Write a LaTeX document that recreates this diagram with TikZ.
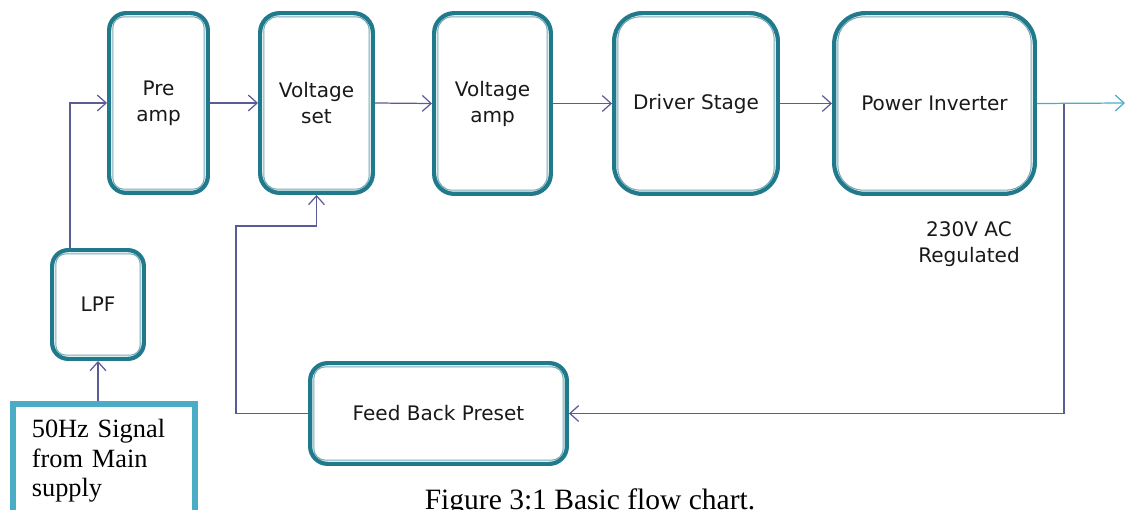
\documentclass[tikz,border=0pt]{standalone}
\usepackage{fontspec}
\setsansfont{DejaVu Sans}
\newfontfamily\serifface{Liberation Serif}
\usetikzlibrary{arrows.meta,calc}
\definecolor{boxteal}{HTML}{217A8C}
\definecolor{boxlight}{HTML}{72AAB6}
\definecolor{wirecol}{HTML}{5B5B97}
\definecolor{sigblue}{HTML}{4BACC6}

\begin{document}
\begin{tikzpicture}[x=0.02cm, y=-0.02cm, >={Straight Barb[length=5pt,width=9pt]}, font=\sffamily\fontsize{11.4}{14.8}\selectfont]
	\tikzset{stage/.style={draw=boxteal, line width=2.4pt, fill=white, text=black!90, rounded corners=#1, align=center, inner sep=0pt},
		stage/.default=0.34cm,
		rim/.style={draw=boxlight, line width=0.6pt},
		wire/.style={draw=wirecol, line width=0.7pt, ->}}
	\useasboundingbox (0,0) rectangle (1126,510);
	% stages along the top
	\node[stage=0.34cm, minimum width=1.975cm, minimum height=3.595cm] (preamp) at (158.5,103) {Pre\\amp};
	\node[stage=0.39cm, minimum width=2.255cm, minimum height=3.595cm] (vset) at (316.5,103) {Voltage\\set};
	\node[stage=0.40cm, minimum width=2.335cm, minimum height=3.615cm] (vamp) at (492.5,103.5) {Voltage\\amp};
	\node[stage=0.56cm, minimum width=3.275cm, minimum height=3.615cm] (driver) at (696,103.5) {Driver Stage};
	\node[stage=0.62cm, minimum width=4.015cm, minimum height=3.615cm] (inverter) at (934.5,103.5) {Power Inverter};
	% filter and feedback
	\node[stage=0.32cm, minimum width=1.835cm, minimum height=2.175cm] (lpf) at (98,304.5) {LPF};
	\node[stage=0.35cm, minimum width=5.135cm, minimum height=2.015cm] (feedback) at (438.5,413.5) {Feed Back Preset};
	\foreach \n/\r in {preamp/0.22, vset/0.27, vamp/0.28, driver/0.44, inverter/0.50, lpf/0.20, feedback/0.23}
		\draw[rim, rounded corners=\r cm] ($(\n.south west)+(3.3pt,3.3pt)$) rectangle ($(\n.north east)-(3.3pt,3.3pt)$);
	% input
	\node[draw=sigblue, line width=3.2pt, fill=white, minimum width=3.646cm, minimum height=2.29cm, inner xsep=0.38cm, text width=2.886cm, align=left, font=\serifface\fontsize{15}{16.8}\selectfont] (signal) at (104,461) {50Hz Signal\\from Main\\supply};
	\node[align=center, text=black!90] (acnote) at (969,244) {230V AC\\Regulated};
	\node[font=\serifface\fontsize{16.8}{20}\selectfont, anchor=base] (caption) at (590,509) {Figure 3:1 Basic flow chart.};
	% connectors
	\coordinate (tap) at (1064,103);
	\coordinate (out) at (1125,103);
	\coordinate (bend) at (236,226);
	\draw[wire] (signal.north -| lpf.south) -- (lpf.south);
	\draw[wire] ([xshift=0.4cm]lpf.north west) |- (preamp.west);
	\draw[wire] (preamp.east) -- (vset.west);
	\draw[wire] (vset.east) -- (vamp.west);
	\draw[wire] (vamp.east) -- (driver.west);
	\draw[wire] (driver.east) -- (inverter.west);
	\draw[wire] (tap) |- (feedback.east);
	\draw[wire] (feedback.west) -| (bend) -| (vset.south);
	\draw[wire, draw=sigblue] (inverter.east) -- (out);
\end{tikzpicture}
\end{document}
